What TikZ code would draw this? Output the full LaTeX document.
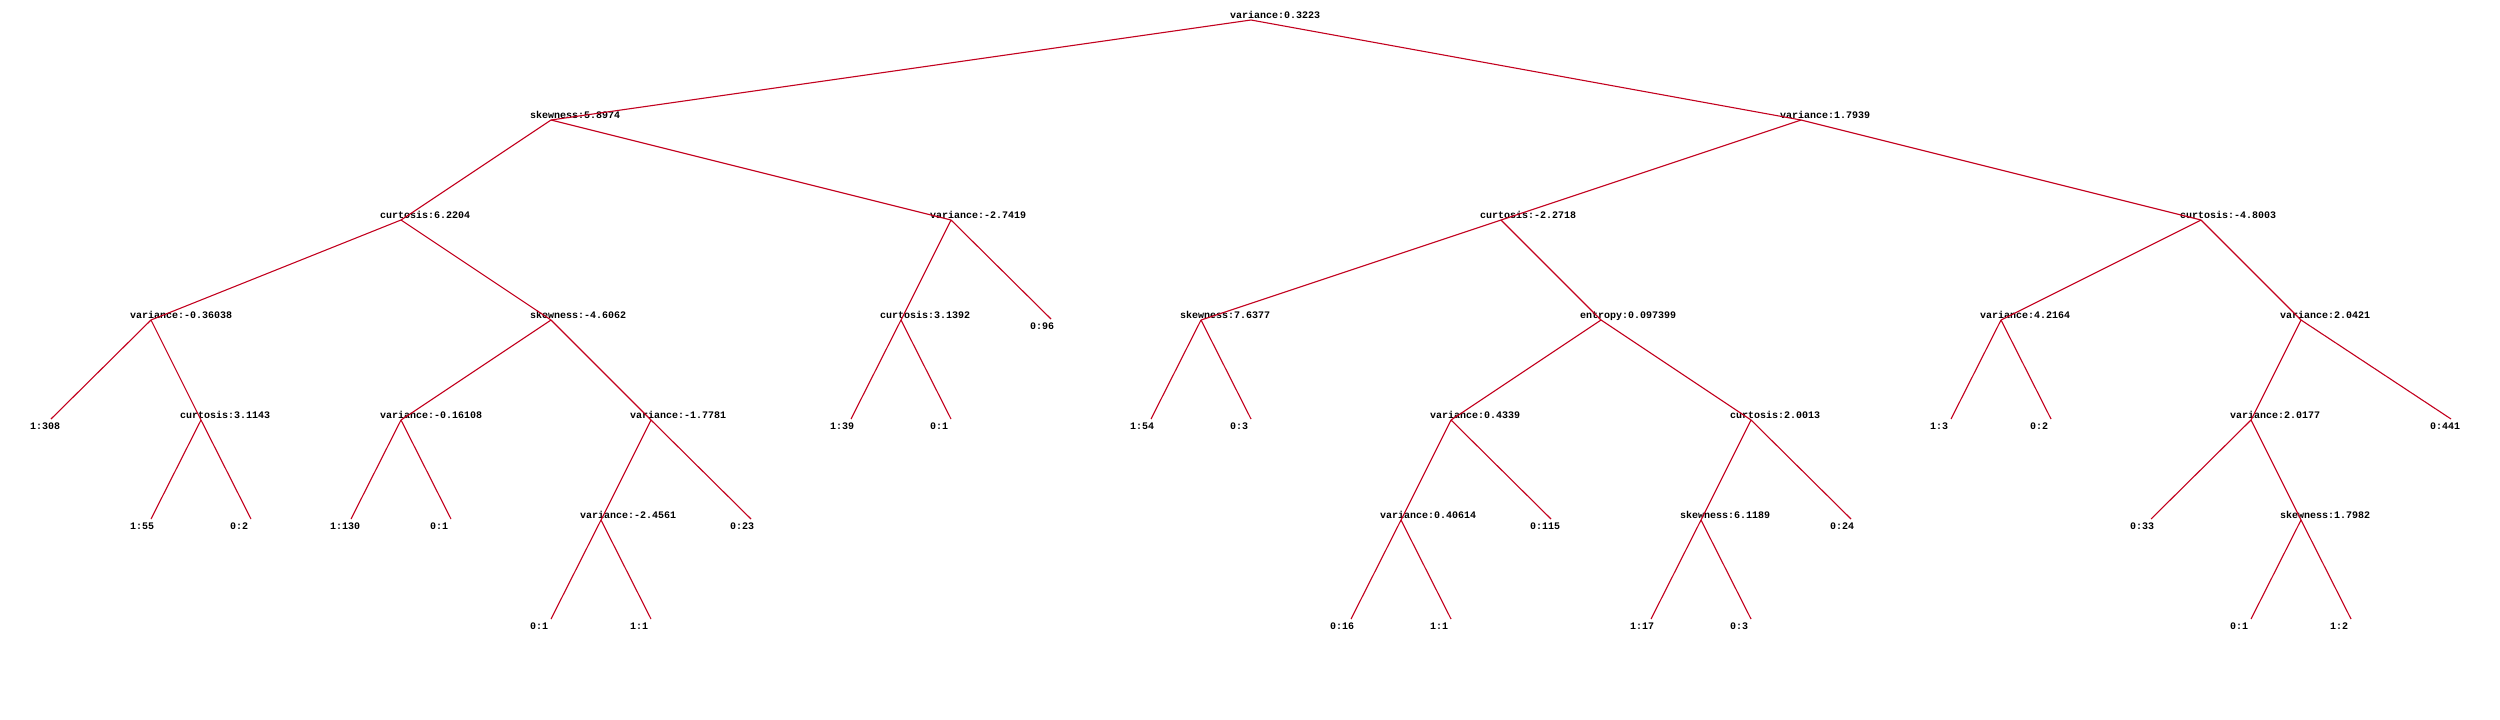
\documentclass[tikz,border=0pt]{standalone}
\usepackage{fontspec}
\setmonofont{Liberation Mono}
\definecolor{edgered}{RGB}{195,0,30}
\newcommand\inn[4]{\coordinate (#1) at (#2pt,-#3pt); \node[itext] (#1-t) at (#1) {#4};}
\newcommand\lf[4]{\coordinate (#1) at (#2pt,-#3pt); \node[ltext] (#1-t) at (#1) {#4};}
\tikzset{
  lbl/.style={inner sep=0pt, font=\ttfamily\bfseries\fontsize{10}{10}\selectfont, text=black},
  itext/.style={lbl, anchor=base west, xshift=-21pt, yshift=1.5pt},
  ltext/.style={lbl, anchor=north west, xshift=-21pt, yshift=-4pt},
  edge/.style={draw=edgered, line width=1.1pt}
}
\begin{document}
\begin{tikzpicture}
\fill[white] (0,0) rectangle (2500pt,-720pt);
\useasboundingbox (0,0) rectangle (2500pt,-720pt);
% level 0-3
\inn{r}{1251}{20}{variance:0.3223}
\inn{a}{551}{120}{skewness:5.8974}
\inn{b}{1801}{120}{variance:1.7939}
\inn{aa}{401}{220}{curtosis:6.2204}
\inn{ab}{951}{220}{variance:-2.7419}
\inn{ba}{1501}{220}{curtosis:-2.2718}
\inn{bb}{2201}{220}{curtosis:-4.8003}
\inn{aaa}{151}{320}{variance:-0.36038}
\inn{aab}{551}{320}{skewness:-4.6062}
\inn{aba}{901}{320}{curtosis:3.1392}
\lf{abb}{1051}{319}{0:96}
\inn{baa}{1201}{320}{skewness:7.6377}
\inn{bab}{1601}{320}{entropy:0.097399}
\inn{bba}{2001}{320}{variance:4.2164}
\inn{bbb}{2301}{320}{variance:2.0421}
% level 4
\lf{aaaa}{51}{419}{1:308}
\inn{aaab}{201}{420}{curtosis:3.1143}
\inn{aaba}{401}{420}{variance:-0.16108}
\inn{aabb}{651}{420}{variance:-1.7781}
\lf{abaa}{851}{419}{1:39}
\lf{abab}{951}{419}{0:1}
\lf{baaa}{1151}{419}{1:54}
\lf{baab}{1251}{419}{0:3}
\inn{baba}{1451}{420}{variance:0.4339}
\inn{babb}{1751}{420}{curtosis:2.0013}
\lf{bbaa}{1951}{419}{1:3}
\lf{bbab}{2051}{419}{0:2}
\inn{bbba}{2251}{420}{variance:2.0177}
\lf{bbbb}{2451}{419}{0:441}
% level 5
\lf{aaaba}{151}{519}{1:55}
\lf{aaabb}{251}{519}{0:2}
\lf{aabaa}{351}{519}{1:130}
\lf{aabab}{451}{519}{0:1}
\inn{aabba}{601}{520}{variance:-2.4561}
\lf{aabbb}{751}{519}{0:23}
\inn{babaa}{1401}{520}{variance:0.40614}
\lf{babab}{1551}{519}{0:115}
\inn{babba}{1701}{520}{skewness:6.1189}
\lf{babbb}{1851}{519}{0:24}
\lf{bbbaa}{2151}{519}{0:33}
\inn{bbbab}{2301}{520}{skewness:1.7982}
% level 6
\lf{aabbaa}{551}{619}{0:1}
\lf{aabbab}{651}{619}{1:1}
\lf{babaaa}{1351}{619}{0:16}
\lf{babaab}{1451}{619}{1:1}
\lf{babbaa}{1651}{619}{1:17}
\lf{babbab}{1751}{619}{0:3}
\lf{bbbaba}{2251}{619}{0:1}
\lf{bbbabb}{2351}{619}{1:2}
% edges
\foreach \p/\c in {r/a,r/b,a/aa,a/ab,b/ba,b/bb,
  aa/aaa,aa/aab,ab/aba,ab/abb,ba/baa,ba/bab,bb/bba,bb/bbb,
  aaa/aaaa,aaa/aaab,aab/aaba,aab/aabb,aba/abaa,aba/abab,baa/baaa,baa/baab,
  bab/baba,bab/babb,bba/bbaa,bba/bbab,bbb/bbba,bbb/bbbb,
  aaab/aaaba,aaab/aaabb,aaba/aabaa,aaba/aabab,aabb/aabba,aabb/aabbb,
  baba/babaa,baba/babab,babb/babba,babb/babbb,bbba/bbbaa,bbba/bbbab,
  aabba/aabbaa,aabba/aabbab,babaa/babaaa,babaa/babaab,babba/babbaa,babba/babbab,
  bbbab/bbbaba,bbbab/bbbabb}
  \draw[edge] (\p) -- (\c);
\end{tikzpicture}
\end{document}
